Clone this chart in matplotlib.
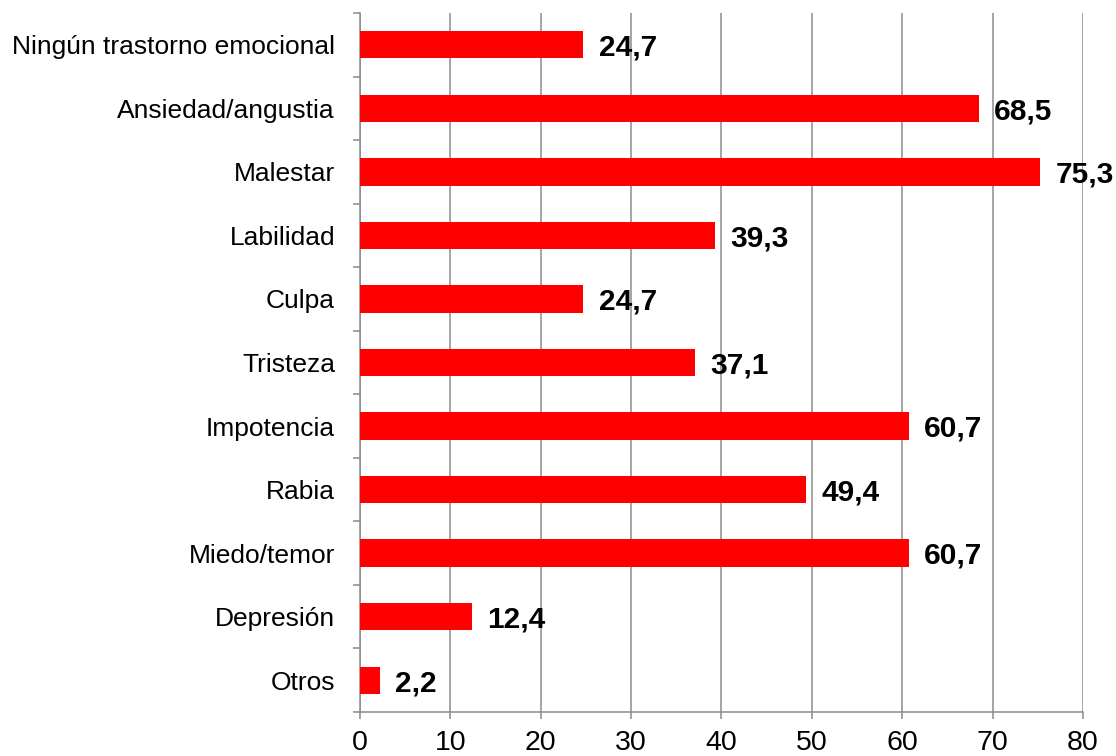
import matplotlib
matplotlib.use("Agg")
import matplotlib.pyplot as plt
import numpy as np

categories = ["Ningún trastorno emocional", "Ansiedad/angustia", "Malestar", "Labilidad",
              "Culpa", "Tristeza", "Impotencia", "Rabia", "Miedo/temor", "Depresión", "Otros"]
values = [24.7, 68.5, 75.3, 39.3, 24.7, 37.1, 60.7, 49.4, 60.7, 12.4, 2.2]
value_labels = ["24,7", "68,5", "75,3", "39,3", "24,7", "37,1", "60,7", "49,4", "60,7", "12,4", "2,2"]
xticks = [0, 10, 20, 30, 40, 50, 60, 70, 80]

plt.rcParams['font.family'] = ['Liberation Sans', 'DejaVu Sans']

fig = plt.figure(figsize=(11.16, 7.56), dpi=100)
ax = fig.add_axes([0.3226, 0.0582, 0.9704 - 0.3226, 0.9828 - 0.0582])

n = len(categories)
y = np.arange(n)[::-1]
ax.barh(y, values, height=0.43, color='#ff0000', zorder=3)
for yi, v, lab in zip(y, values, value_labels):
    ax.annotate(lab, (v, yi), xytext=(11, -2), textcoords='offset points',
                va='center', ha='left', fontsize=21.5, fontweight='bold', color='black', zorder=4)

ax.set_xlim(0, 80)
ax.set_ylim(-0.5, n - 0.5)
ax.set_xticks(xticks)
ax.set_xticklabels([str(t) for t in xticks], fontsize=20.5)
ax.xaxis.grid(True, color='#8c8c8c', linewidth=1.1, zorder=0)

ax.set_yticks(y)
ax.set_yticklabels(categories, fontsize=19)
ax.set_yticks(np.arange(-0.5, n, 1), minor=True)
ax.tick_params(axis='y', which='major', length=0, pad=18)
ax.tick_params(axis='y', which='minor', length=5, width=1.1, color='#8c8c8c')
ax.tick_params(axis='x', length=5, width=1.1, color='#8c8c8c', pad=8)

for s in ['top', 'right']:
    ax.spines[s].set_visible(False)
for s in ['left', 'bottom']:
    ax.spines[s].set_color('#8c8c8c')
    ax.spines[s].set_linewidth(1.1)

fig.savefig('out.png', dpi=100)
